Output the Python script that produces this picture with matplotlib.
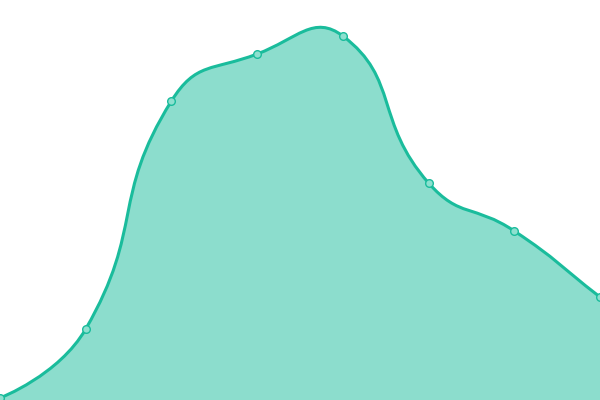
import numpy as np
import matplotlib.pyplot as plt
from matplotlib.path import Path
from matplotlib.patches import PathPatch

# values (pixel heights above the bottom edge)
categories = list(range(8))
values = [2, 71, 299, 346, 364, 217, 169, 103]

line_color = '#1abc9c'
fill_color = '#1abc9c'

W, H = 600, 400
xscale = W / (len(categories) - 1)


def smooth_path(xs, ys, smooth=0.5):
    # echarts-like bezier smoothing, computed in pixel units
    pts = np.column_stack([np.asarray(xs, float) * xscale, np.asarray(ys, float)])
    n = len(pts)
    verts = [tuple(pts[0])]
    codes = [Path.MOVETO]
    cp0 = pts[0].copy()
    for i in range(1, n):
        p = pts[i]
        prev = pts[i - 1]
        nxt = pts[i + 1] if i < n - 1 else p
        v = nxt - prev
        d0 = np.hypot(*(p - prev))
        d1 = np.hypot(*(nxt - p))
        r = d1 / (d0 + d1) if (d0 + d1) > 0 else 0.5
        cp1 = p - v * smooth * (1 - r)
        verts += [tuple(cp0), tuple(cp1), tuple(p)]
        codes += [Path.CURVE4] * 3
        cp0 = p + v * smooth * r
    verts = [(x / xscale, y) for x, y in verts]
    return verts, codes


fig = plt.figure(figsize=(6, 4), dpi=100)
ax = fig.add_axes([0, 0, 1, 1])
ax.set_xlim(0, len(categories) - 1)
ax.set_ylim(0, H)
ax.axis('off')

verts, codes = smooth_path(categories, values)

# filled area under the curve
fverts = verts + [(categories[-1], 0), (categories[0], 0), verts[0]]
fcodes = codes + [Path.LINETO, Path.LINETO, Path.CLOSEPOLY]
ax.add_patch(PathPatch(Path(fverts, fcodes), facecolor=fill_color, alpha=0.5,
                       edgecolor='none', zorder=1))

# the line itself
ax.add_patch(PathPatch(Path(verts, codes), facecolor='none', edgecolor=line_color,
                       lw=2.2, zorder=2, capstyle='round', joinstyle='round'))

ax.plot(categories, values, 'o', ms=5.5, mfc='#8de0cf', mec=line_color, mew=1,
        zorder=3, clip_on=False)

fig.savefig('out.png', dpi=100)
